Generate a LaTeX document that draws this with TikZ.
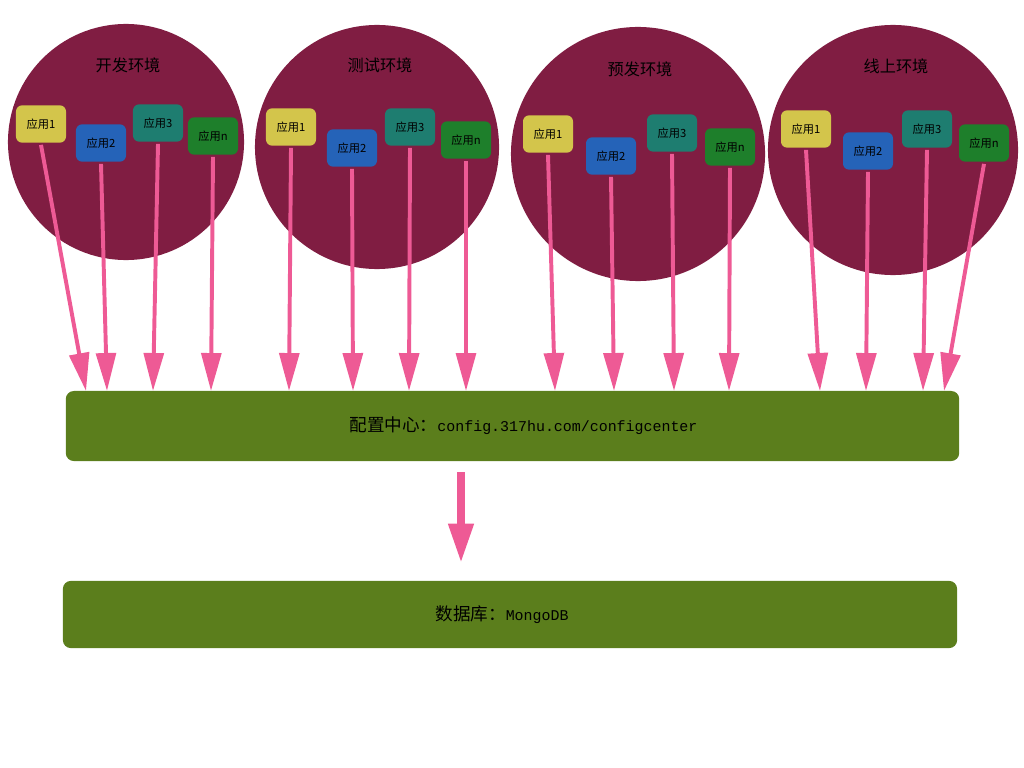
\documentclass[tikz,border=0pt]{standalone}
\usepackage{fontspec}
\setmainfont{Noto Sans CJK SC}
\newfontfamily\latmono[Scale=0.85]{Liberation Mono}
\usetikzlibrary{arrows.meta}
\definecolor{envred}{HTML}{801D42}
\definecolor{appyellow}{HTML}{D3C54B}
\definecolor{appblue}{HTML}{2563B8}
\definecolor{appteal}{HTML}{1E7D70}
\definecolor{appgreen}{HTML}{1E7F2B}
\definecolor{linkpink}{HTML}{EE5A95}
\definecolor{hubgreen}{HTML}{5B7E1C}
\tikzset{
  env/.style={ circle, fill=envred, minimum size=#1 }
}
\tikzset{
  envtitle/.style={ font=\fontsize{11.5}{13}\selectfont }
}
\tikzset{
  app/.style={ fill=#1, rounded corners=0.15cm, minimum width=1.25cm, minimum height=0.93cm, inner sep=0pt, font=\fontsize{8}{9}\selectfont }
}
\tikzset{
  link/.style={ draw=linkpink, line width=2.8pt, -{Triangle[length=27pt, width=14pt]} }
}
\tikzset{
  hub/.style={ fill=hubgreen, rounded corners=0.2cm, inner sep=0pt, font=\fontsize{12.5}{14}\selectfont }
}

\begin{document}
\begin{tikzpicture}[x=0.025cm, y=-0.025cm]
      \useasboundingbox (0,0) rectangle (1024,768);
      % environments
      \node[env=5.9cm] (dev) at (126,142) {};
      \node[env=6.1cm] (test) at (377,147) {};
      \node[env=6.35cm] (pre) at (638,154) {};
      \node[env=6.25cm] (prod) at (893,150) {};
      \node[envtitle] (devt) at (128,65) {开发环境};
      \node[envtitle] (testt) at (380,65) {测试环境};
      \node[envtitle] (pret) at (640,69) {预发环境};
      \node[envtitle] (prodt) at (896,66) {线上环境};
      % apps
      \node[app=appyellow] (dev1) at (41,124) {应用1};
      \node[app=appblue] (dev2) at (101,143) {应用2};
      \node[app=appteal] (dev3) at (158,123) {应用3};
      \node[app=appgreen] (devn) at (213,136) {应用n};
      \node[app=appyellow] (test1) at (291,127) {应用1};
      \node[app=appblue] (test2) at (352,148) {应用2};
      \node[app=appteal] (test3) at (410,127) {应用3};
      \node[app=appgreen] (testn) at (466,140) {应用n};
      \node[app=appyellow] (pre1) at (548,134) {应用1};
      \node[app=appblue] (pre2) at (611,156) {应用2};
      \node[app=appteal] (pre3) at (672,133) {应用3};
      \node[app=appgreen] (pren) at (730,147) {应用n};
      \node[app=appyellow] (prod1) at (806,129) {应用1};
      \node[app=appblue] (prod2) at (868,151) {应用2};
      \node[app=appteal] (prod3) at (927,129) {应用3};
      \node[app=appgreen] (prodn) at (984,143) {应用n};
      % config center and database
      \node[hub, minimum width=22.33cm, minimum height=1.75cm] (cfg) at (512.5,426)
        {\hspace*{0.55cm}配置中心：{\latmono config.317hu.com/configcenter}};
      \node[hub, minimum width=22.35cm, minimum height=1.68cm] (db) at (510,614.5)
        {数据库：{\latmono MongoDB}\hspace*{0.4cm}};
      % arrow ends on the config center
      \foreach \n/\x in {dev1/86, dev2/107, dev3/153, devn/211,
                         test1/289, test2/353, test3/409, testn/466,
                         pre1/555, pre2/614, pre3/674, pren/729,
                         prod1/820, prod2/866, prod3/923, prodn/944}
        \coordinate (\n in) at (\x,391);
      \foreach \n in {dev1,dev2,dev3,devn,test1,test2,test3,testn,
                      pre1,pre2,pre3,pren,prod1,prod2,prod3,prodn}
        \draw[link] ([yshift=-0.05cm]\n.south) -- (\n in);
      \coordinate (dbin) at (461,581);
      \draw[link, line width=5.5pt, -{Triangle[length=28pt, width=17pt]},
            shorten <=0.27cm, shorten >=0.45cm] (cfg.south -| dbin) -- (dbin);
    \end{tikzpicture}
\end{document}
